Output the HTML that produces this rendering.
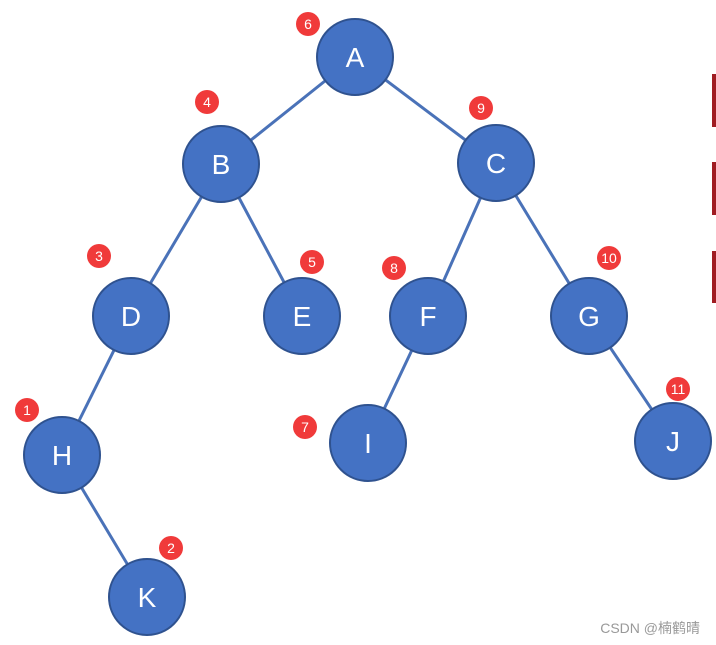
<!DOCTYPE html>
<html><head><meta charset="utf-8"><style>
html,body{margin:0;padding:0;background:#fff;}
svg{display:block;}
</style></head><body>
<svg width="716" height="645" viewBox="0 0 716 645" xmlns="http://www.w3.org/2000/svg">
<g stroke="#4a72b8" stroke-width="3">
<line x1="355" y1="57" x2="221" y2="164"/>
<line x1="355" y1="57" x2="496" y2="163"/>
<line x1="221" y1="164" x2="131" y2="316"/>
<line x1="221" y1="164" x2="302" y2="316"/>
<line x1="496" y1="163" x2="428" y2="316"/>
<line x1="496" y1="163" x2="589" y2="316"/>
<line x1="131" y1="316" x2="62" y2="455"/>
<line x1="62" y1="455" x2="147" y2="597"/>
<line x1="428" y1="316" x2="368" y2="443"/>
<line x1="589" y1="316" x2="673" y2="441"/>
</g>
<g fill="#4472c4" stroke="#2f528f" stroke-width="2">
<circle cx="355" cy="57" r="38"/>
<circle cx="221" cy="164" r="38"/>
<circle cx="496" cy="163" r="38"/>
<circle cx="131" cy="316" r="38"/>
<circle cx="302" cy="316" r="38"/>
<circle cx="428" cy="316" r="38"/>
<circle cx="589" cy="316" r="38"/>
<circle cx="62" cy="455" r="38"/>
<circle cx="368" cy="443" r="38"/>
<circle cx="673" cy="441" r="38"/>
<circle cx="147" cy="597" r="38"/>
</g>
<g fill="#fff" font-family="Liberation Sans, sans-serif" font-size="28" text-anchor="middle">
<text x="355" y="67">A</text>
<text x="221" y="174">B</text>
<text x="496" y="173">C</text>
<text x="131" y="326">D</text>
<text x="302" y="326">E</text>
<text x="428" y="326">F</text>
<text x="589" y="326">G</text>
<text x="62" y="465">H</text>
<text x="368" y="453">I</text>
<text x="673" y="451">J</text>
<text x="147" y="607">K</text>
</g>
<g fill="#f03a3a">
<circle cx="308" cy="24" r="12"/>
<circle cx="207" cy="102" r="12"/>
<circle cx="481" cy="108" r="12"/>
<circle cx="99" cy="256" r="12"/>
<circle cx="312" cy="262" r="12"/>
<circle cx="394" cy="268" r="12"/>
<circle cx="609" cy="258" r="12"/>
<circle cx="27" cy="410" r="12"/>
<circle cx="305" cy="427" r="12"/>
<circle cx="678" cy="389" r="12"/>
<circle cx="171" cy="548" r="12"/>
</g>
<g fill="#fff" font-family="Liberation Sans, sans-serif" font-size="14" text-anchor="middle">
<text x="308" y="29">6</text>
<text x="207" y="107">4</text>
<text x="481" y="113">9</text>
<text x="99" y="261">3</text>
<text x="312" y="267">5</text>
<text x="394" y="273">8</text>
<text x="609" y="263">10</text>
<text x="27" y="415">1</text>
<text x="305" y="432">7</text>
<text x="678" y="394">11</text>
<text x="171" y="553">2</text>
</g>
<g fill="#a01c22">
<rect x="712" y="74" width="4" height="53"/>
<rect x="712" y="162" width="4" height="53"/>
<rect x="712" y="251" width="4" height="52"/>
</g>
<text x="700" y="633" text-anchor="end" fill="#999" font-family="Liberation Sans, 'Noto Sans CJK SC', sans-serif" font-size="14">CSDN @楠鹤晴</text>
</svg>
</body></html>
